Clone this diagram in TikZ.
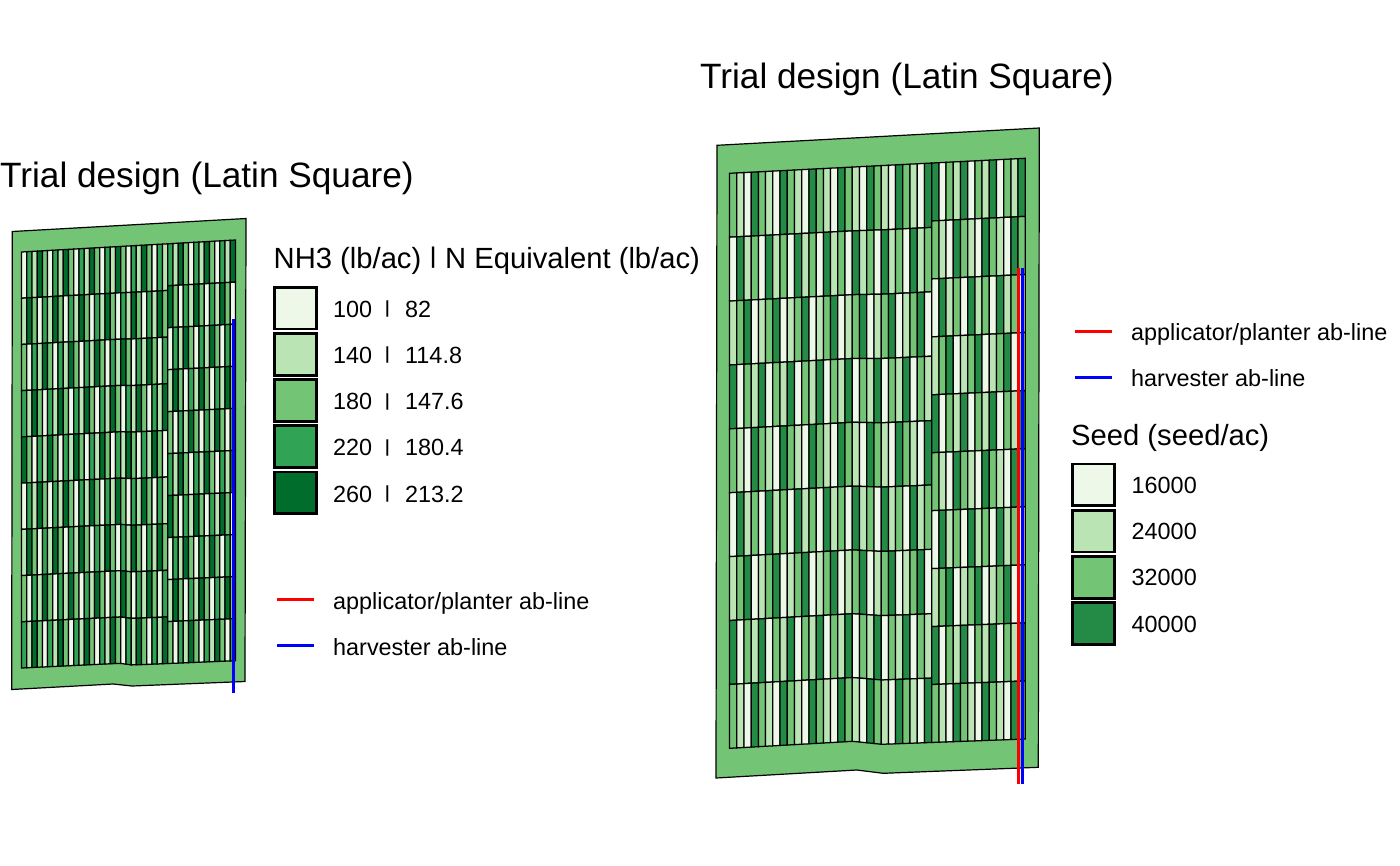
\documentclass[tikz,border=0pt]{standalone}
\usepackage{fontspec}
\setmainfont{Liberation Sans}
\usepackage{graphicx}
\usepackage{xcolor}
\definecolor{nh1}{HTML}{EDF8E9}
\definecolor{nh2}{HTML}{BAE4B3}
\definecolor{nh3}{HTML}{74C476}
\definecolor{nh4}{HTML}{31A354}
\definecolor{nh5}{HTML}{006D2C}
\definecolor{seed1}{HTML}{EDF8E9}
\definecolor{seed2}{HTML}{BAE4B3}
\definecolor{seed3}{HTML}{74C476}
\definecolor{seed4}{HTML}{238B45}
% the bar of the legend, squeezed upright: scale, lift
\newcommand{\shortbar}[2]{\raisebox{#2}{\scalebox{1}[#1]{|}}}
% prefix, levels as a flat list, number of levels, x from, x to, columns, rows, row shift
\newcommand{\plotcells}[8]{
  \foreach \r in {1,...,#7}{
    \foreach \c in {1,...,#6}{
      \pgfmathsetmacro{\xa}{#4+(#5-#4)*(\c-1)/#6}
      \pgfmathsetmacro{\xb}{#4+(#5-#4)*\c/#6}
      \pgfmathtruncatemacro{\lvl}{{#2}[#3*mod(\r-1+#8,#3)+mod(\c-1,#3)]}
      \draw[plotcell,fill=#1\lvl] ({\xa},{rowy(\xa,(\r-1)/#7)}) -- ({\xb},{rowy(\xb,(\r-1)/#7)})
        -- ({\xb},{rowy(\xb,\r/#7)}) -- ({\xa},{rowy(\xa,\r/#7)}) -- cycle;
    }
  }
}
\begin{document}
\begin{tikzpicture}[x=1pt,y=-1pt,
  plotcell/.style={draw=black,line width=1.25pt},
  ground/.style={draw=black,line width=1.2pt,fill=nh3},
  titletext/.style={anchor=base west,inner sep=0pt,font=\fontsize{35.2}{40}\selectfont},
  legendtitle/.style={anchor=base west,inner sep=0pt,font=\fontsize{29.2}{34}\selectfont},
  keytext/.style={anchor=base west,inner sep=0pt,font=\fontsize{23.4}{28}\selectfont},
  keybox/.style={draw=black,line width=2.8pt,minimum size=41.8pt,inner sep=0pt},
  abline/.style={line width=2.9pt},
  keyline/.style={line width=3pt}
  ]
  \useasboundingbox (0,0) rectangle (1400,865);

  % left map
  \draw[ground] (12.3,231.5) -- (246,218.5) -- (245,681.5) -- (132,686) -- (113,684) -- (11.7,689.5) -- cycle;
  \begin{scope}[declare function={
      topy(\x)=252-12*(\x-21.5)/214;
      boty(\x)=(\x<120)?(668-4.7*(\x-21.5)/98.5):((\x<132)?(663.3+1.7*(\x-120)/12):(665-4.3*(\x-132)/103.5));
      rowy(\x,\f)=topy(\x)+(boty(\x)-topy(\x))*\f;}]
    \plotcells{nh}{1,4,2,5,3,2,5,3,1,4,3,1,4,2,5,4,2,5,3,1,5,3,1,4,2}{5}{21.5}{167.7}{28}{9}{0}
    \plotcells{nh}{1,4,2,5,3,2,5,3,1,4,3,1,4,2,5,4,2,5,3,1,5,3,1,4,2}{5}{167.7}{235.5}{13}{10}{3}
  \end{scope}
  \coordinate (abtopL) at (233.3,319);
  \coordinate (abendL) at (233.3,693);
  \draw[abline,blue] (abtopL) -- (abendL);

  % right map
  \draw[ground] (717,145.3) -- (1039.3,128) -- (1038.3,767.3) -- (883.3,773.3) -- (856.7,770) -- (716,778) -- cycle;
  \begin{scope}[declare function={
      topy(\x)=173.3-15*(\x-729.5)/295.8;
      boty(\x)=(\x<853)?(748.3-7*(\x-729.5)/123.5):((\x<881.7)?(741.3+3*(\x-853)/28.7):(744.3-5.3*(\x-881.7)/143.6));
      rowy(\x,\f)=topy(\x)+(boty(\x)-topy(\x))*\f;}]
    \plotcells{seed}{3,2,1,4,1,4,2,3,2,3,4,1,4,1,3,2}{4}{729.5}{931.7}{28}{9}{0}
    \plotcells{seed}{3,2,1,4,1,4,2,3,2,3,4,1,4,1,3,2}{4}{931.7}{1025.3}{13}{10}{3}
  \end{scope}
  \coordinate (abtopRa) at (1018.6,267.7);
  \coordinate (abendRa) at (1018.6,784);
  \coordinate (abtopRb) at (1022.1,267.7);
  \coordinate (abendRb) at (1022.1,784);
  \draw[abline,red] (abtopRa) -- (abendRa);
  \draw[abline,blue] (abtopRb) -- (abendRb);

  % titles
  \node[titletext] (titleL) at (0,187) {Trial design (Latin Square)};
  \node[titletext] (titleR) at (700,88) {Trial design (Latin Square)};

  % left legend
  \node[legendtitle] (nhtitle) at (273.5,268) {NH3 (lb/ac) \shortbar{0.78}{4.8pt} N Equivalent (lb/ac)};
  \foreach \i/\y/\rate/\nval in {1/308/100/82,2/354.3/140/114.8,3/400.5/180/147.6,4/446.7/220/180.4,5/492.9/260/213.2}{
    \node[keytext] (nhrate\i) at (333,\y+9.2) {\rate};
    \node[keybox,fill=nh\i] (nhkey\i) at (295.5,\y) {};
    \node[keytext] (nhbar\i) at (384.2,\y+9.2) {\shortbar{0.75}{3.7pt}};
    \node[keytext] (nhval\i) at (405,\y+9.2) {\nval};
  }
  \coordinate (redaL) at (277,599);
  \coordinate (redbL) at (314,599);
  \coordinate (blueaL) at (277,645);
  \coordinate (bluebL) at (314,645);
  \draw[keyline,red] (redaL) -- (redbL);
  \draw[keyline,blue] (blueaL) -- (bluebL);
  \node[keytext] (applabelL) at (333,609.2) {applicator/planter ab-line};
  \node[keytext] (harvlabelL) at (333,655.2) {harvester ab-line};

  % right legend
  \coordinate (redaR) at (1075,331);
  \coordinate (redbR) at (1112,331);
  \coordinate (blueaR) at (1075,377);
  \coordinate (bluebR) at (1112,377);
  \draw[keyline,red] (redaR) -- (redbR);
  \draw[keyline,blue] (blueaR) -- (bluebR);
  \node[keytext] (applabelR) at (1131,340.4) {applicator/planter ab-line};
  \node[keytext] (harvlabelR) at (1131,386.4) {harvester ab-line};
  \node[legendtitle] (seedtitle) at (1071,445.3) {Seed (seed/ac)};
  \foreach \i/\y/\rate in {1/484.8/16000,2/531/24000,3/577.2/32000,4/623.4/40000}{
    \node[keybox,fill=seed\i] (seedkey\i) at (1093.5,\y) {};
    \node[keytext] (seedrate\i) at (1131.5,\y+8.7) {\rate};
  }
\end{tikzpicture}
\end{document}
